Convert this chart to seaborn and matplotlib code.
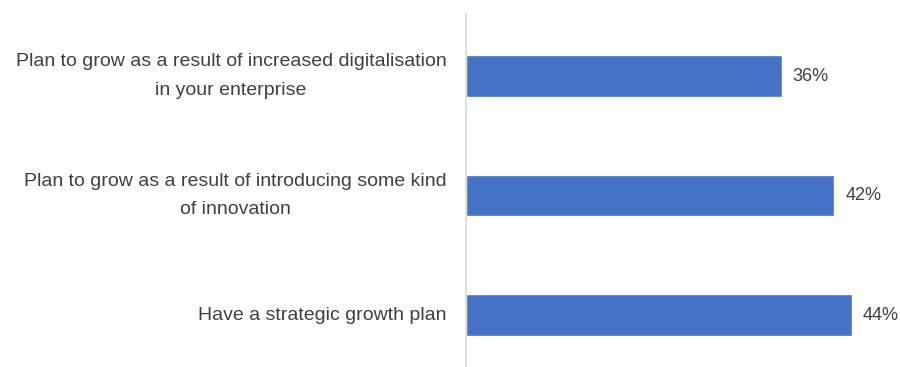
import matplotlib
matplotlib.use("Agg")
import matplotlib.pyplot as plt
import seaborn as sns
import pandas as pd

# --- data ---
categories = [
    "Plan to grow as a result of increased digitalisation\nin your enterprise",
    "Plan to grow as a result of introducing some kind\nof innovation",
    "Have a strategic growth plan",
]
values = [36, 42, 44]

df = pd.DataFrame({"category": categories, "value": values})

sns.set_style("white")
plt.rcParams["font.family"] = ["Liberation Sans", "DejaVu Sans"]

fig = plt.figure(figsize=(9, 3.67), dpi=100)
ax = fig.add_axes([466 / 900, 0, 434 / 900, 1 - 14 / 367])

sns.barplot(data=df, x="value", y="category", color="#4472C4",
            saturation=1, width=0.35, ax=ax, orient="h")

ax.set_xlim(0, 49.5)
ax.set_ylim(2.435, -0.519)

for i, v in enumerate(values):
    ax.text(v + 1.25, i, f"{v}%", va="center", ha="left", fontsize=13, color="#404040")

ax.set_xlabel("")
ax.set_ylabel("")
ax.set_xticks([])
ax.tick_params(axis="y", length=0, pad=14)
for lab in ax.get_yticklabels():
    lab.set_fontsize(14)
    lab.set_color("#404040")
    lab.set_multialignment("center")
    lab.set_linespacing(1.85)
    lab.set_verticalalignment("center")

for s in ["top", "right", "bottom"]:
    ax.spines[s].set_visible(False)
ax.spines["left"].set_color("#d9d9d9")
ax.spines["left"].set_linewidth(1.2)

fig.savefig("out.png", dpi=100)
